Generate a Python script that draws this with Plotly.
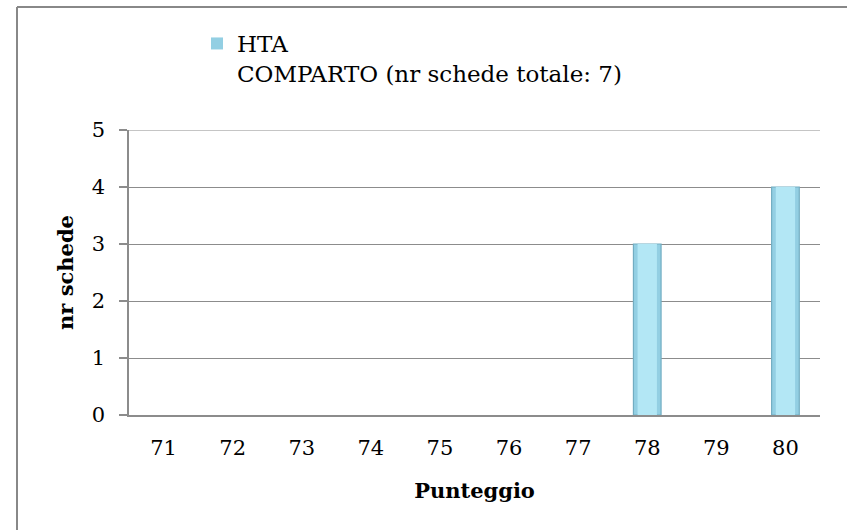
import plotly.graph_objects as go

categories = ["71", "72", "73", "74", "75", "76", "77", "78", "79", "80"]
values = [0, 0, 0, 0, 0, 0, 0, 3, 0, 4]
series_name = "HTA<br>COMPARTO (nr schede totale: 7)"

W, H = 847, 530
ML, MR, MT, MB = 129, 27, 130, 115
pw, ph = W - ML - MR, H - MT - MB

FONT = "DejaVu Serif"
FS = 21
LFS = 23

fig = go.Figure()
fig.add_trace(go.Bar(
    x=categories, y=values, name=series_name, width=0.4,
    marker=dict(color="#93cfe3",
                line=dict(color="#72adc2", width=[1.2 if v > 0 else 0 for v in values])),
    showlegend=True,
))
# lighter inner highlight of the same bars (bevel look)
fig.add_trace(go.Bar(
    x=categories, y=values, width=0.28, showlegend=False, hoverinfo="skip",
    marker=dict(color="#b3e7f5", line=dict(width=0)),
))

def px_x(x):
    return (x - ML) / pw

def px_y(y):
    return (H - MB - y) / ph

fig.update_layout(
    width=W, height=H,
    barmode="overlay",
    margin=dict(l=ML, r=MR, t=MT, b=MB),
    plot_bgcolor="white", paper_bgcolor="white",
    font=dict(family=FONT, size=FS, color="black"),
    showlegend=True,
    legend=dict(x=px_x(197), y=px_y(22), xanchor="left", yanchor="top",
                font=dict(family=FONT, size=LFS), bgcolor="rgba(0,0,0,0)",
                itemwidth=30, valign="top"),
    xaxis=dict(
        title=dict(text="<b>Punteggio</b>", font=dict(family=FONT, size=FS), standoff=24),
        showgrid=False, showline=True, linecolor="#8c8c8c", linewidth=1.5,
        ticks="", tickfont=dict(size=FS), ticklabelstandoff=13,
    ),
    yaxis=dict(
        title=dict(text="<b>nr schede</b>", font=dict(family=FONT, size=FS), standoff=12),
        range=[0, 5], dtick=1, showgrid=True, gridcolor="#8c8c8c", gridwidth=1.2,
        showline=True, linecolor="#8c8c8c", linewidth=1.5,
        ticks="outside", ticklen=8, tickcolor="#8c8c8c", tickwidth=1.5,
        tickfont=dict(size=FS), zeroline=False, ticklabelstandoff=10,
    ),
    shapes=[
        dict(type="line", xref="paper", yref="y", x0=0, x1=1, y0=5, y1=5,
             line=dict(color="#8c8c8c", width=1.2), layer="below"),
        dict(type="line", xref="paper", yref="paper",
             x0=px_x(17), x1=px_x(847), y0=px_y(7), y1=px_y(7),
             line=dict(color="#888888", width=2)),
        dict(type="line", xref="paper", yref="paper",
             x0=px_x(17), x1=px_x(17), y0=px_y(7), y1=px_y(530),
             line=dict(color="#888888", width=2)),
    ],
)

fig.write_html("out.html", config={"displayModeBar": False},
               post_script="document.body.style.margin='0';document.body.style.padding='0';")
